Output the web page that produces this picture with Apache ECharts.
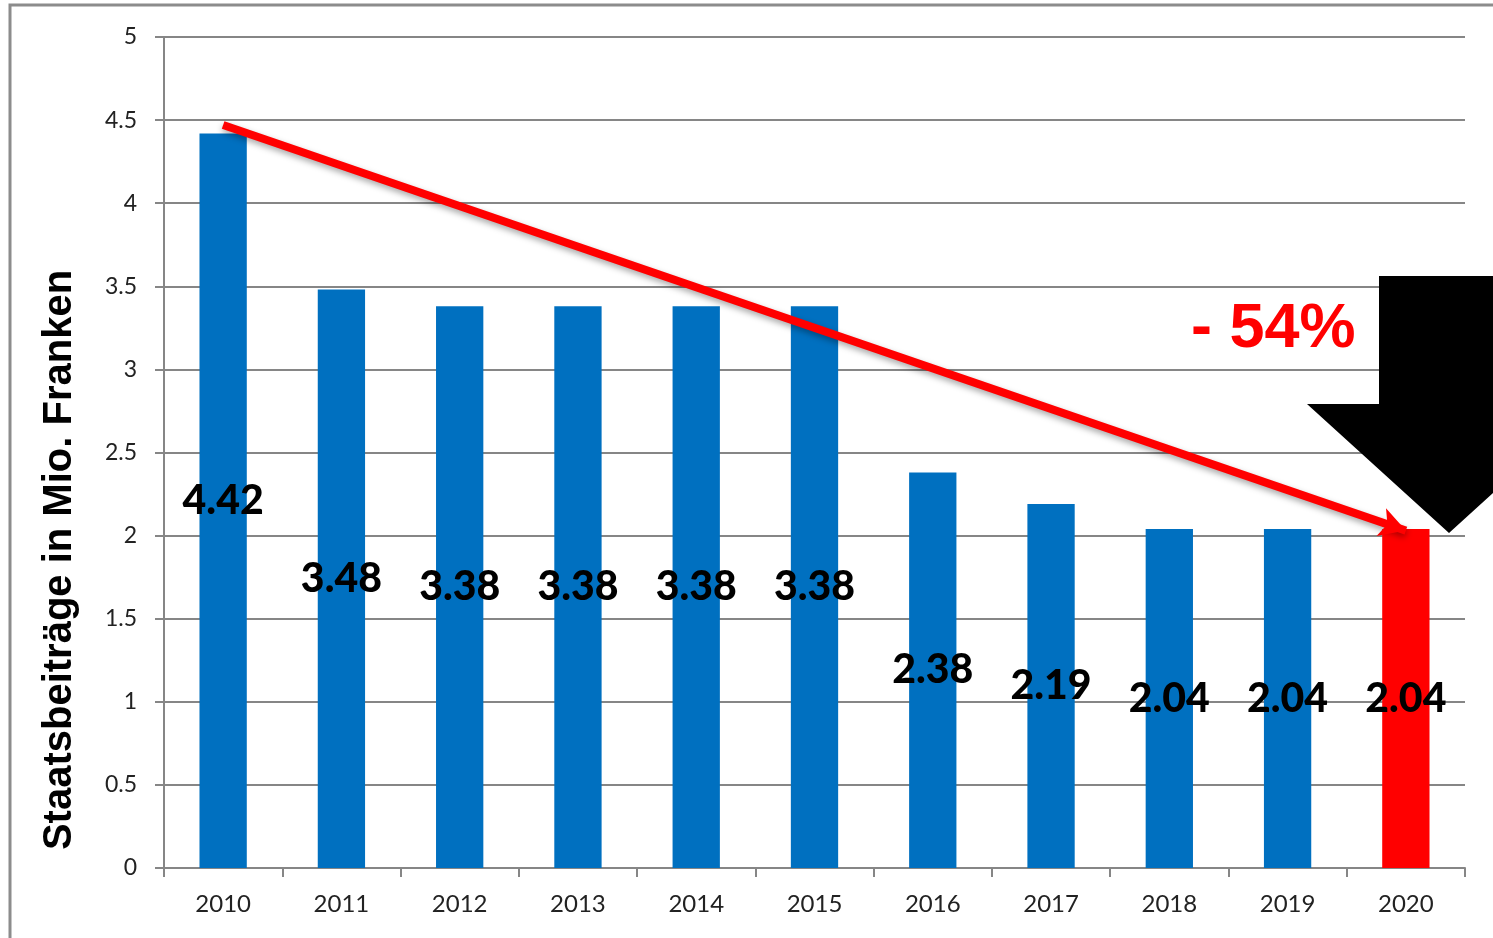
<!DOCTYPE html>
<html>
<head>
<meta charset="utf-8">
<script src="https://cdn.jsdelivr.net/npm/echarts@6/dist/echarts.min.js"></script>
<style>
  html, body { margin: 0; padding: 0; background: #fff; }
  #chart { width: 1493px; height: 938px; }
</style>
</head>
<body>
<div id="chart"></div>
<script>
// Daten
const jahre = ['2010', '2011', '2012', '2013', '2014', '2015', '2016', '2017', '2018', '2019', '2020'];
const beitraege = [4.42, 3.48, 3.38, 3.38, 3.38, 3.38, 2.38, 2.19, 2.04, 2.04, 2.04];
const trendStart = [0, 4.47];
const trendEnd = [10, 2.03];
const rueckgang = '- 54%';
const achsenTitel = 'Staatsbeiträge in Mio. Franken';

const blau = '#0070C0';
const rot = '#FF0000';

const initChart = () => {
    const myChart = echarts.init(document.getElementById('chart'));

    const barData = beitraege.map((v, i) => ({
        value: v,
        itemStyle: { color: i === beitraege.length - 1 ? rot : blau }
    }));

    myChart.setOption({
        animation: false,
        backgroundColor: '#fff',
        grid: { left: 164, right: 28, top: 37, bottom: 70 },
        xAxis: {
            type: 'category',
            data: jahre,
            axisLine: { lineStyle: { color: '#868686', width: 2 } },
            axisTick: { show: true, length: 9, lineStyle: { color: '#868686', width: 2 } },
            axisLabel: { color: '#222', fontSize: 24, fontFamily: 'Lato', margin: 24 }
        },
        yAxis: {
            type: 'value',
            min: 0,
            max: 5,
            interval: 0.5,
            axisLine: { show: true, lineStyle: { color: '#868686', width: 2 } },
            axisTick: { show: true, length: 9, lineStyle: { color: '#868686', width: 2 } },
            axisLabel: { color: '#222', fontSize: 23, fontFamily: 'Lato', margin: 27 },
            splitLine: { lineStyle: { color: '#868686', width: 2 } }
        },
        series: [{
            type: 'bar',
            data: barData,
            barWidth: '40%',
            label: {
                show: true,
                position: 'inside',
                color: '#000',
                fontSize: 41,
                fontWeight: 900,
                fontFamily: 'Lato',
                formatter: p => p.value.toFixed(2)
            },
            markLine: {
                silent: true,
                symbol: ['none', 'arrow'],
                symbolSize: [22, 26],
                label: { show: false },
                lineStyle: {
                    color: rot, width: 8, type: 'solid',
                    shadowColor: 'rgba(0,0,0,0.35)', shadowBlur: 6, shadowOffsetY: 3
                },
                data: [[{ coord: trendStart }, { coord: trendEnd }]]
            }
        }],
        graphic: [
            {
                type: 'rect',
                shape: { x: 10, y: 5, width: 1500, height: 960 },
                style: { fill: 'none', stroke: '#8c8c8c', lineWidth: 3 },
                z: 0
            },
            {
                type: 'text',
                x: 60,
                y: 560,
                rotation: Math.PI / 2,
                style: {
                    text: achsenTitel,
                    fill: '#000',
                    align: 'center',
                    verticalAlign: 'middle',
                    font: 'bold 40px "Liberation Sans", Arial, sans-serif'
                },
                z: 100
            },
            {
                type: 'polygon',
                shape: {
                    points: [[1379, 276], [1519, 276], [1519, 404], [1591, 404],
                             [1449, 533], [1307, 404], [1379, 404]]
                },
                style: { fill: '#000' },
                z: 100
            },
            {
                type: 'text',
                left: 1191,
                top: 298,
                style: {
                    text: rueckgang,
                    fill: rot,
                    font: 'bold 63px "Liberation Sans", Arial, sans-serif'
                },
                z: 100
            }
        ]
    });
};

window.addEventListener('load', initChart);
</script>
</body>
</html>
